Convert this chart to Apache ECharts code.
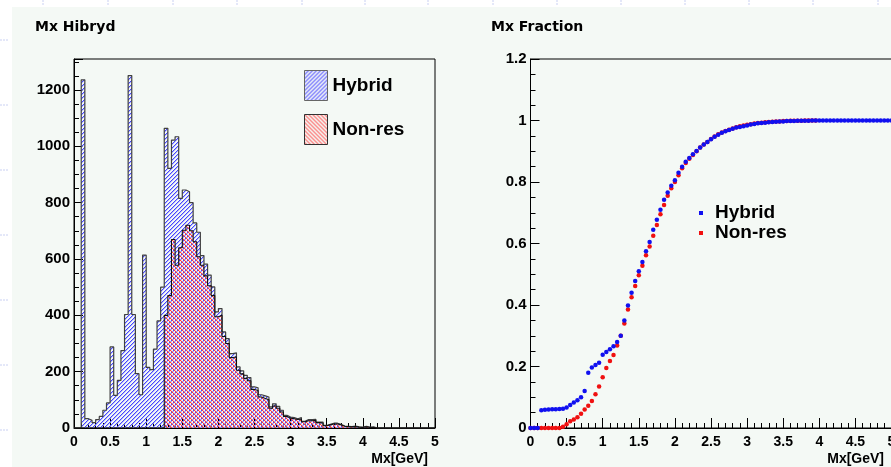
<!DOCTYPE html>
<html>
<head>
<meta charset="utf-8">
<script src="https://cdn.jsdelivr.net/npm/echarts@6/dist/echarts.min.js"></script>
<style>
html,body{margin:0;padding:0;background:#ffffff;}
#chart{width:891px;height:467px;}
</style>
</head>
<body>
<div id="chart"></div>
<script>
// ---------- data ----------
const xEdges = [0,0.05,0.1,0.15,0.2,0.25,0.3,0.35,0.4,0.45,0.5,0.55,0.6,0.65,0.7,0.75,0.8,0.85,0.9,0.95,
  1,1.05,1.1,1.15,1.2,1.25,1.3,1.35,1.4,1.45,1.5,1.55,1.6,1.65,1.7,1.75,1.8,1.85,1.9,1.95,
  2,2.05,2.1,2.15,2.2,2.25,2.3,2.35,2.4,2.45,2.5,2.55,2.6,2.65,2.7,2.75,2.8,2.85,2.9,2.95,
  3,3.05,3.1,3.15,3.2,3.25,3.3,3.35,3.4,3.45,3.5,3.55,3.6,3.65,3.7,3.75,3.8,3.85,3.9,3.95,
  4,4.05,4.1,4.15,4.2,4.25,4.3,4.35,4.4,4.45,4.5,4.55,4.6,4.65,4.7,4.75,4.8,4.85,4.9,4.95,5];

const hybridCounts = [0,0,1236,33,27,19,30,41,63,89,
  288,116,169,275,403,1251,403,193,118,614,
  215,207,280,380,500,1064,922,1022,1034,815,
  845,839,800,728,695,612,582,543,501,412,
  424,341,317,264,267,217,203,187,179,146,
  143,118,114,110,75,86,77,63,45,39,
  37,33,37,24,30,30,31,21,21,9,
  13,17,17,13,7,6,5,7,4,3,
  6,3,4,0,0,0,0,0,0,0,
  0,0,0,0,0,0,0,0,0,0];

const nonresCounts = [0,0,0,0,0,0,0,0,0,0,
  0,0,0,0,0,0,0,0,0,0,
  0,0,0,0,0,400,470,669,578,640,
  702,720,700,661,608,578,540,505,470,395,
  400,325,300,250,252,205,192,176,168,137,
  133,110,105,100,70,78,70,57,41,35,
  33,30,32,22,26,26,27,19,18,8,
  11,14,14,11,6,5,4,5,3,2,
  4,2,2,0,0,0,0,0,0,0,
  0,0,0,0,0,0,0,0,0,0];

// fractions, one per entry of xEdges (hybrid) / first 80 entries (non-res)
const hybridFrac = [0,0,0,0.058,0.059,0.060,0.061,0.061,0.062,0.063,
  0.067,0.075,0.083,0.090,0.100,0.120,0.180,0.197,0.205,0.212,
  0.238,0.247,0.256,0.266,0.280,0.300,0.350,0.398,0.440,0.478,
  0.510,0.540,0.575,0.605,0.645,0.677,0.710,0.742,0.766,0.788,
  0.806,0.830,0.850,0.866,0.878,0.890,0.901,0.912,0.922,0.930,
  0.939,0.947,0.954,0.960,0.965,0.969,0.973,0.977,0.979,0.981,
  0.984,0.987,0.989,0.991,0.992,0.993,0.994,0.995,0.996,0.997,
  0.997,0.998,0.998,0.998,0.999,0.999,0.999,0.999,1,1,
  1,1,1,1,1,1,1,1,1,1,
  1,1,1,1,1,1,1,1,1,1,1];

const nonresFrac = [0,0,0,0,0,0,0,0,0,0.004,
  0.012,0.022,0.028,0.035,0.046,0.060,0.072,0.088,0.110,0.135,
  0.165,0.195,0.218,0.237,0.268,0.300,0.340,0.385,0.425,0.462,
  0.497,0.528,0.562,0.590,0.625,0.660,0.695,0.725,0.755,0.780,
  0.800,0.822,0.845,0.862,0.876,0.888,0.900,0.912,0.922,0.930,
  0.940,0.948,0.955,0.961,0.966,0.970,0.974,0.978,0.981,0.984,
  0.986,0.988,0.990,0.992,0.993,0.994,0.995,0.996,0.997,0.997,
  0.998,0.998,0.999,0.999,0.999,0.999,1,1,1,1];

const seriesNames = ['Hybrid', 'Non-res'];
const titles = ['Mx Hibryd', 'Mx Fraction'];
const xTitle = 'Mx[GeV]';

// ---------- patterns ----------
function hatch(dir, rgb, faintRgb, faint) {
  const c = document.createElement('canvas');
  c.width = 4; c.height = 4;
  const ctx = c.getContext('2d');
  const img = ctx.createImageData(4, 4);
  for (let y = 0; y < 4; y++) for (let x = 0; x < 4; x++) {
    const d = dir > 0 ? (x + y) % 4 : ((x - y) % 4 + 4) % 4;
    const i = (y * 4 + x) * 4;
    let a = 0, col = rgb;
    if (d === (dir > 0 ? 3 : 0)) a = 255;
    else if (d === (dir > 0 ? 0 : 1)) { a = faint; col = faintRgb; }
    img.data[i] = col[0]; img.data[i+1] = col[1]; img.data[i+2] = col[2]; img.data[i+3] = a;
  }
  ctx.putImageData(img, 0, 0);
  return { image: c, repeat: 'repeat' };
}
const bluePat = hatch(1, [70, 70, 255], [165, 165, 255], 200);
const redPat = hatch(-1, [255, 60, 60], [255, 185, 185], 150);

function histData(counts) {
  const out = [];
  for (let i = 0; i < xEdges.length; i++) {
    out.push([xEdges[i], counts[Math.min(i, counts.length - 1)]]);
  }
  return out;
}
function fracData(vals) {
  return vals.map((v, i) => [xEdges[i], v]);
}

const labFont = 'Liberation Sans, Arial, sans-serif';
function xAxisCfg(grid) {
  return {
    gridIndex: grid, type: 'value', min: 0, max: 5, interval: 0.5,
    axisLine: { show: true, onZero: false, lineStyle: { color: '#000', width: 1 } },
    axisTick: { show: true, inside: true, length: 10, lineStyle: { color: '#000' } },
    minorTick: { show: true, splitNumber: 5, length: 5, lineStyle: { color: '#000' } },
    splitLine: { show: false }, minorSplitLine: { show: false },
    axisLabel: { color: '#000', fontSize: 14, fontWeight: 'bold', fontFamily: labFont, margin: 7 }
  };
}
function yAxisCfg(grid, max, interval, size) {
  return {
    gridIndex: grid, type: 'value', min: 0, max: max, interval: interval,
    axisLine: { show: true, onZero: false, lineStyle: { color: '#000', width: 1 } },
    axisTick: { show: true, inside: true, length: 9, lineStyle: { color: '#000' } },
    minorTick: { show: true, splitNumber: 4, length: 5, lineStyle: { color: '#000' } },
    splitLine: { show: false }, minorSplitLine: { show: false },
    axisLabel: { color: '#000', fontSize: size, fontWeight: 'bold', fontFamily: labFont, margin: 4,
      showMaxLabel: max === 1.2,
      formatter: function (v) { return (Math.abs(v / interval - Math.round(v / interval)) < 1e-6) ? String(+v.toFixed(2)) : ''; } }
  };
}

const chart = echarts.init(document.getElementById('chart'), null, { renderer: 'canvas' });

const topMarks = [43,108,173,237,302,365,428,493,557,621,685,749,813,878];
const leftMarks = [40,105,170,235,300,365,430];
const graphics = [
  { type: 'rect', shape: { x: 0, y: 0, width: 891, height: 7 }, style: { fill: '#ffffff' }, z: -100, silent: true },
  { type: 'rect', shape: { x: 0, y: 0, width: 12, height: 467 }, style: { fill: '#ffffff' }, z: -100, silent: true }
];
topMarks.forEach(x => graphics.push({ type: 'line', shape: { x1: x, y1: 0, x2: x, y2: 5 }, style: { stroke: '#c9d0f2', lineWidth: 1, lineDash: [2, 1] }, z: -90, silent: true }));
leftMarks.forEach(y => graphics.push({ type: 'line', shape: { x1: 0, y1: y, x2: 9, y2: y }, style: { stroke: '#c9d0f2', lineWidth: 1, lineDash: [2, 1] }, z: -90, silent: true }));
graphics.push({ type: 'text', style: { text: titles[0], x: 35, y: 20, font: 'bold 14px "DejaVu Sans", sans-serif', fill: '#000', textVerticalAlign: 'top' } });
graphics.push({ type: 'text', style: { text: titles[1], x: 491, y: 20, font: 'bold 14px "DejaVu Sans", sans-serif', fill: '#000', textVerticalAlign: 'top' } });
graphics.push({ type: 'text', style: { text: xTitle, x: 428, y: 459, font: 'bold 14px "Liberation Sans", sans-serif', fill: '#000', textAlign: 'right', textVerticalAlign: 'middle' } });
graphics.push({ type: 'text', style: { text: xTitle, x: 884, y: 459, font: 'bold 14px "Liberation Sans", sans-serif', fill: '#000', textAlign: 'right', textVerticalAlign: 'middle' } });

const option = {
  animation: false,
  backgroundColor: '#f4f9f5',
  textStyle: { fontFamily: labFont },
  graphic: graphics,
  grid: [
    { left: 74, top: 59, width: 361, height: 369, show: true, borderColor: '#000', borderWidth: 1, backgroundColor: 'transparent', outerBoundsMode: 'none', containLabel: false },
    { left: 530.5, top: 59, width: 361, height: 369, show: true, borderColor: '#000', borderWidth: 1, backgroundColor: 'transparent', outerBoundsMode: 'none', containLabel: false }
  ],
  xAxis: [xAxisCfg(0), xAxisCfg(1)],
  yAxis: [yAxisCfg(0, 1310, 200, 15), yAxisCfg(1, 1.2, 0.2, 15)],
  legend: [
    {
      left: 304, top: 70, orient: 'vertical', padding: 0, itemWidth: 23, itemHeight: 30, itemGap: 13,
      selectedMode: false,
      textStyle: { fontSize: 19, fontWeight: 'bold', color: '#000', fontFamily: labFont },
      data: [
        { name: seriesNames[0], icon: 'rect', itemStyle: { color: bluePat, borderColor: '#666', borderWidth: 1 } },
        { name: seriesNames[1], icon: 'rect', itemStyle: { color: redPat, borderColor: '#333', borderWidth: 1 } }
      ]
    },
    {
      left: 699, top: 203, orient: 'vertical', padding: 0, itemWidth: 4, itemHeight: 4, itemGap: 0,
      selectedMode: false,
      textStyle: { fontSize: 19, fontWeight: 'bold', color: '#000', fontFamily: labFont, lineHeight: 20, padding: [0, 0, 0, 7] },
      data: [
        { name: seriesNames[0], icon: 'rect', itemStyle: { color: '#1010f0', borderWidth: 0 } },
        { name: seriesNames[1], icon: 'rect', itemStyle: { color: '#f01010', borderWidth: 0 } }
      ]
    }
  ],
  series: [
    {
      name: seriesNames[0], type: 'line', xAxisIndex: 0, yAxisIndex: 0, step: 'end',
      data: histData(hybridCounts), showSymbol: false, symbol: 'none', silent: true,
      lineStyle: { color: '#404040', width: 1.2 },
      itemStyle: { color: '#404040' },
      areaStyle: { color: bluePat, opacity: 1 }, z: 2
    },
    {
      name: seriesNames[1], type: 'line', xAxisIndex: 0, yAxisIndex: 0, step: 'end',
      data: histData(nonresCounts), showSymbol: false, symbol: 'none', silent: true,
      lineStyle: { color: '#111', width: 1.1 },
      itemStyle: { color: '#111' },
      areaStyle: { color: redPat, opacity: 1 }, z: 3
    },
    {
      name: seriesNames[1], type: 'scatter', xAxisIndex: 1, yAxisIndex: 1,
      data: fracData(nonresFrac), symbol: 'circle', symbolSize: 4.5, silent: true,
      itemStyle: { color: '#f01010', opacity: 1 }, z: 3
    },
    {
      name: seriesNames[0], type: 'scatter', xAxisIndex: 1, yAxisIndex: 1,
      data: fracData(hybridFrac), symbol: 'circle', symbolSize: 4.5, silent: true,
      itemStyle: { color: '#1010f0', opacity: 1 }, z: 4
    }
  ]
};
chart.setOption(option);
</script>
</body>
</html>
